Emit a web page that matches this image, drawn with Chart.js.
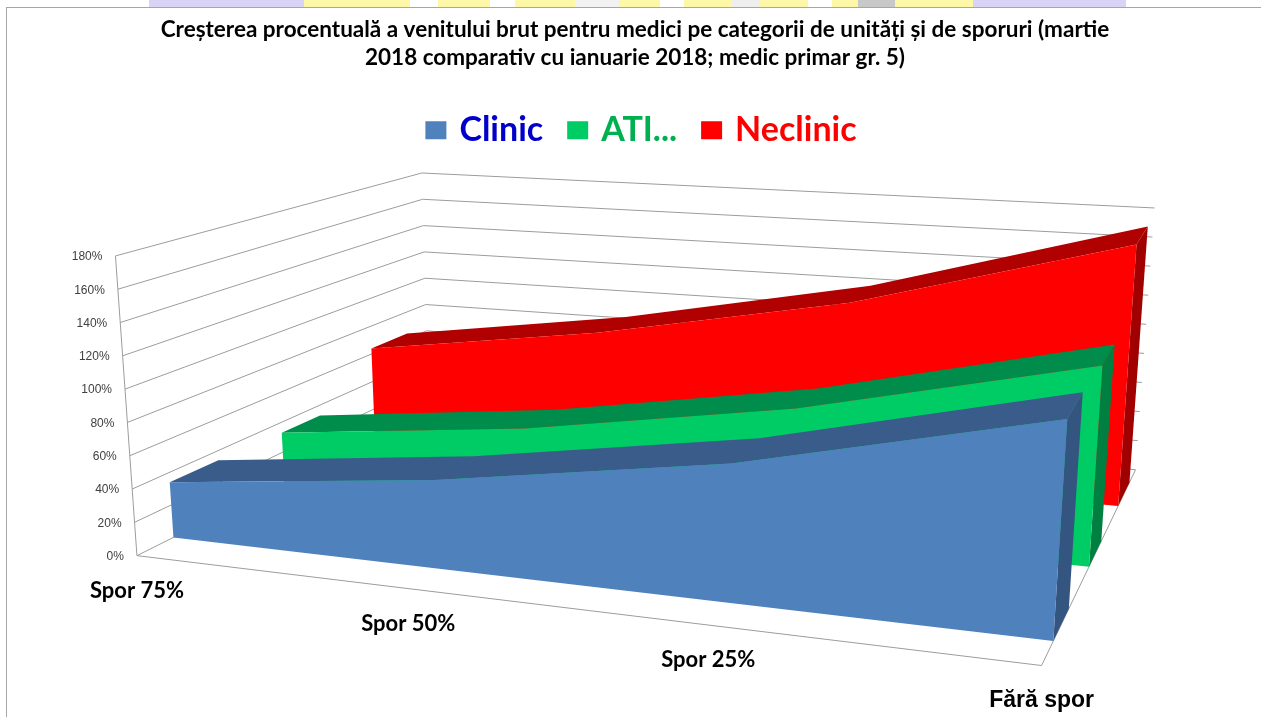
<!DOCTYPE html>
<html>
<head>
<meta charset="utf-8">
<script src="https://cdn.jsdelivr.net/npm/chart.js@4"></script>
<style>
  html, body { margin: 0; background: #fff; }
  #strip { position: absolute; left: 149px; top: 0; width: 977px; height: 7px;
    background: linear-gradient(90deg,
      #d9d4f5 0, #d9d4f5 155px,
      #fdf7a8 155px, #fdf7a8 261px, #fff 261px, #fff 289px,
      #fdf7a8 289px, #fdf7a8 341px, #fff 341px, #fff 366px,
      #fdf7a8 366px, #fdf7a8 426px, #f2f2f2 426px, #f2f2f2 470px,
      #fdf7a8 470px, #fdf7a8 511px, #fff 511px, #fff 535px,
      #fdf7a8 535px, #fdf7a8 583px, #eeeeee 583px, #eeeeee 611px,
      #fdf7a8 611px, #fdf7a8 659px, #fff 659px, #fff 683px,
      #fdf7a8 683px, #fdf7a8 709px, #c8c8c8 709px, #c8c8c8 746px,
      #fdf7a8 746px, #fdf7a8 824px, #d9d4f5 824px); }
  #frame { position: absolute; left: 6px; top: 7px; width: 1255px; height: 710px;
    border-left: 1px solid #a6a6a6; border-top: 1px solid #a6a6a6; box-sizing: border-box; background: #fff; }
  canvas { position: absolute; left: 0; top: 0; }
</style>
</head>
<body>
<div id="strip"></div>
<div id="frame"></div>
<canvas id="chart" width="1261" height="717"></canvas>
<script>
var categories = ["Spor 75%", "Spor 50%", "Spor 25%", "Fără spor"];
var clinic = [34, 54, 84, 132];
var ati = [33, 52, 82, 127];
var neclinic = [64, 88, 122, 174];
var valueTicks = [0, 20, 40, 60, 80, 100, 120, 140, 160, 180];
var titleLines = [
  "Creșterea procentuală a venitului brut pentru medici pe categorii de unități și de sporuri (martie",
  "2018 comparativ cu ianuarie 2018; medic primar gr. 5)",
];

// the eight corners of the 3D box on the page, [front-left, front-right, back-right, back-left]
var floorBox = [[137, 556], [1042, 666], [1136, 470], [429, 410]];
var ceilBox = [[115.5, 256], [1061, 357], [1155, 208], [422, 173]];
var valueMax = 180;
var foreshorten = 0.857;

function corner(box, u, v) {
  var i = function (k) {
    return (1 - v) * ((1 - u) * box[0][k] + u * box[1][k]) + v * ((1 - u) * box[3][k] + u * box[2][k]);
  };
  return [i(0), i(1)];
}

function project(u, v, value) {
  var f = corner(floorBox, u, v);
  var c = corner(ceilBox, u, v);
  var t = value / valueMax;
  return { x: f[0] + (c[0] - f[0]) * t, y: f[1] + (c[1] - f[1]) * t };
}

function catPos(i) {
  var t = i / (categories.length - 1);
  return (foreshorten * t) / (1 + (foreshorten - 1) * t);
}

function polygon(points, color, label) {
  return { label: label, data: points, polyColor: color, showLine: false, pointRadius: 0, clip: false };
}

function gridLine(points) {
  return { data: points, showLine: true, borderColor: "#9c9c9c", borderWidth: 1, pointRadius: 0, clip: false };
}

function seriesFaces(name, values, vFront, vBack, color, topColor, sideColor) {
  var front = [project(0, vFront, 0), project(1, vFront, 0)];
  var top = [];
  for (var i = values.length - 1; i >= 0; i--) {
    front.push(project(catPos(i), vFront, values[i]));
  }
  values.forEach(function (val, i) {
    top.push(project(catPos(i), vFront, val));
  });
  for (var j = values.length - 1; j >= 0; j--) {
    top.push(project(catPos(j), vBack, values[j]));
  }
  var last = values[values.length - 1];
  var side = [project(1, vFront, 0), project(1, vFront, last), project(1, vBack, last), project(1, vBack, 0)];
  return [polygon(side, sideColor), polygon(top, topColor), polygon(front, color, name)];
}

var sets = [];
valueTicks.forEach(function (tick) {
  sets.push(gridLine([project(0, 0, tick), project(0, 1, tick), project(1, 1, tick)]));
});
sets.push(gridLine([project(0, 0, valueMax), project(0, 0, 0), project(1, 0, 0), project(1, 1, 0)]));
sets = sets.concat(seriesFaces("Neclinic", neclinic, 0.815, 0.935, "#ff0000", "#b00000", "#a00000"));
sets = sets.concat(seriesFaces("ATI...", ati, 0.505, 0.635, "#00cc66", "#008c4a", "#008040"));
sets = sets.concat(seriesFaces("Clinic", clinic, 0.125, 0.29, "#4f81bd", "#3a5c8a", "#345580"));
// later entries have to paint last
sets.forEach(function (s, i) {
  s.order = sets.length - i;
});

var legendColors = { Clinic: "#0000cc", "ATI...": "#00b050", Neclinic: "#ff0000" };
var legendOrder = ["Clinic", "ATI...", "Neclinic"];

var facePlugin = {
  id: "faces",
  beforeDatasetDraw: function (chart, args) {
    var color = chart.data.datasets[args.index].polyColor;
    if (!color) return;
    var ctx = chart.ctx;
    ctx.save();
    ctx.beginPath();
    args.meta.data.forEach(function (pt, i) {
      if (i === 0) ctx.moveTo(pt.x, pt.y);
      else ctx.lineTo(pt.x, pt.y);
    });
    ctx.closePath();
    ctx.fillStyle = color;
    ctx.fill();
    ctx.restore();
  },
  afterLayout: function (chart) {
    chart.legend.left += 8;
    chart.legend.right += 8;
  },
  afterDraw: function (chart) {
    var ctx = chart.ctx;
    var sx = chart.scales.x;
    var sy = chart.scales.y;
    ctx.save();
    ctx.textBaseline = "middle";
    ctx.font = "12px 'Liberation Sans'";
    ctx.fillStyle = "#404040";
    ctx.textAlign = "right";
    valueTicks.forEach(function (tick) {
      var p = project(0, 0, tick);
      ctx.fillText(tick + "%", sx.getPixelForValue(p.x) - 13, sy.getPixelForValue(p.y) + 1);
    });
    ctx.fillStyle = "#000000";
    ctx.textAlign = "center";
    categories.forEach(function (cat, i) {
      var p = project(catPos(i), 0, 0);
      var lastOne = i === categories.length - 1;
      ctx.font = lastOne ? "bold 23px 'Liberation Sans'" : "bold 22px Lato";
      ctx.fillText(cat, sx.getPixelForValue(p.x), sy.getPixelForValue(p.y) + 35);
    });
    ctx.restore();
  },
};

var chart = new Chart(document.getElementById("chart"), {
  type: "scatter",
  data: { datasets: sets },
  plugins: [facePlugin],
  options: {
    responsive: false,
    animation: false,
    events: [],
    layout: { padding: { left: 9 } },
    scales: {
      x: { type: "linear", display: false, min: 0, max: 1261 },
      y: { type: "linear", display: false, reverse: true, min: 0, max: 717 },
    },
    plugins: {
      tooltip: { enabled: false },
      title: {
        display: true,
        text: titleLines,
        color: "#000000",
        font: { family: "Lato", weight: "bold", size: 22.5, lineHeight: 1.25 },
        padding: { top: 16, bottom: 13 },
      },
      legend: {
        display: true,
        labels: {
          font: { family: "Lato", weight: "bold", size: 34 },
          boxWidth: 13,
          boxHeight: 10,
          padding: 28,
          generateLabels: function () {
            return legendOrder.map(function (name) {
              var ds = sets.filter(function (s) { return s.label === name; })[0];
              return {
                text: name,
                fillStyle: ds.polyColor,
                strokeStyle: ds.polyColor,
                lineWidth: 8,
                fontColor: legendColors[name],
                datasetIndex: sets.indexOf(ds),
              };
            });
          },
        },
      },
    },
  },
});

// map the scales onto page pixels now that title and legend took their room
var area = chart.chartArea;
chart.options.scales.x.min = area.left;
chart.options.scales.x.max = area.right;
chart.options.scales.y.min = area.top;
chart.options.scales.y.max = area.bottom;
chart.update();
</script>
</body>
</html>
